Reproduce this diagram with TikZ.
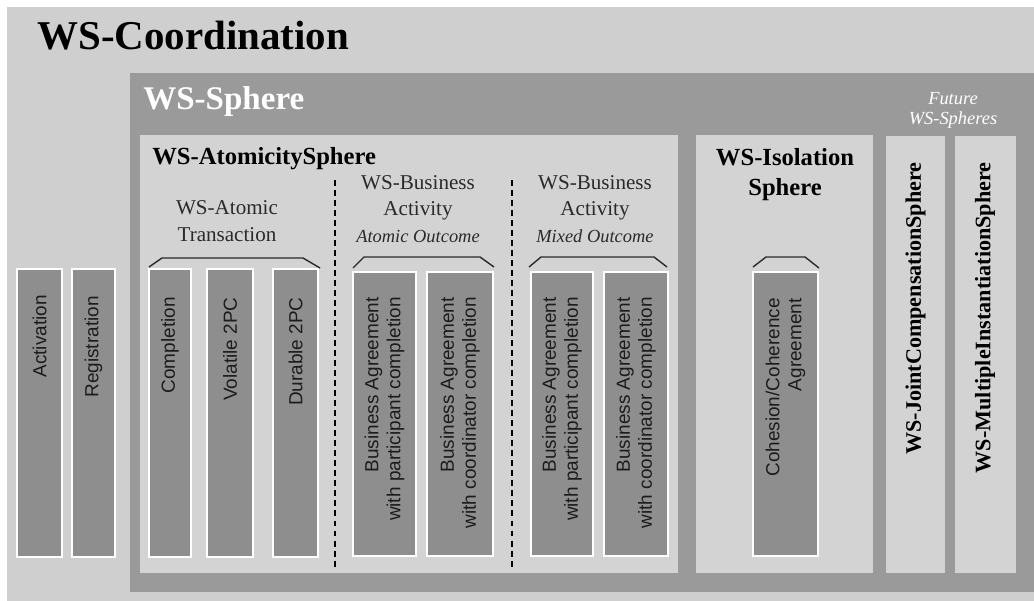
\documentclass[tikz,border=0pt]{standalone}
\usepackage{fontspec}
\setmainfont{Liberation Serif}
\newfontfamily\arialfont{Liberation Sans}
\usepackage{tikz}
\usetikzlibrary{arrows.meta,positioning}
\definecolor{coordgray}{HTML}{CFCFCF}
\definecolor{spheregray}{HTML}{9A9A9A}
\definecolor{innergray}{HTML}{D3D3D3}
\definecolor{protogray}{HTML}{8E8E8E}
\definecolor{linedark}{HTML}{2A2A2A}
\definecolor{labeltext}{HTML}{1C1C1C}
\tikzset{
    protobox/.style={fill=protogray, draw=white, line width=0.7pt},
    protolabel/.style={font=\arialfont\fontsize{10.8}{12.5}\selectfont, color=labeltext, rotate=90, anchor=east, align=right, inner sep=0pt},
    futurelabel/.style={font=\bfseries\fontsize{12.6}{15}\selectfont, color=black, rotate=90, anchor=east, inner sep=0pt},
    groupline/.style={linedark, line width=0.8pt},
    splitline/.style={black, line width=1.1pt, dash pattern=on 3.4pt off 2.3pt},
    headtext/.style={font=\fontsize{12}{14.8}\selectfont, color=linedark, align=center, anchor=base, inner sep=0pt}
}

\begin{document}
\begin{tikzpicture}[x=0.02cm, y=-0.02cm]
    \useasboundingbox (0,0) rectangle (1034,601);
    \fill[white] (0,0) rectangle (1034,601);

    % === WS-Coordination ===
    \fill[coordgray] (7,7) rectangle (1034,601);
    \node[font=\bfseries\fontsize{23.3}{28}\selectfont, anchor=base west, inner sep=0pt] (coordtitle) at (37,50) {WS-Coordination};

    \draw[protobox] (17,269) rectangle (62,557);
    \draw[protobox] (72,269) rectangle (115,557);
    \node[protolabel] (activation) at (39.5,295) {Activation};
    \node[protolabel] (registration) at (93.5,296) {Registration};

    % === WS-Sphere ===
    \fill[spheregray] (130,73) rectangle (1034,592);
    \node[font=\bfseries\fontsize{18.8}{22}\selectfont, color=white, anchor=base west, inner sep=0pt] (spheretitle) at (143,110) {WS-Sphere};

    % === WS-AtomicitySphere ===
    \fill[innergray] (140,135) rectangle (678,573);
    \node[font=\bfseries\fontsize{14}{17}\selectfont, anchor=base west, inner sep=0pt] (atomtitle) at (152,165) {WS-AtomicitySphere};

    % titles: base anchor sits on the last line
    \node[headtext] (attitle) at (227,241) {WS-Atomic\\Transaction};
    \node[headtext] (batitle) at (418,242) {WS-Business\\Activity\\{\itshape\fontsize{10.5}{12}\selectfont Atomic Outcome}};
    \node[headtext] (bmtitle) at (595,242) {WS-Business\\Activity\\{\itshape\fontsize{10.5}{12}\selectfont Mixed Outcome}};

    \draw[splitline] (335,180) -- (335,570);
    \draw[splitline] (512,180) -- (512,570);

    % atomic transaction
    \draw[groupline] (149,267) -- (162,258) -- (303,258) -- (320,268);
    \draw[protobox] (149,269) rectangle (191,557);
    \draw[protobox] (207,269) rectangle (253,557);
    \draw[protobox] (273,269) rectangle (318,557);
    \node[protolabel] (completion) at (170,297) {Completion};
    \node[protolabel] (volatile) at (230,297) {Volatile 2PC};
    \node[protolabel] (durable) at (295.5,297) {Durable 2PC};

    % business activity, atomic outcome
    \draw[groupline] (353,268) -- (364,257) -- (480,257) -- (494,267);
    \draw[protobox] (353,272) rectangle (416,556);
    \draw[protobox] (427,272) rectangle (493,556);
    \node[protolabel] (bapart) at (384.5,297) {Business Agreement\\with participant completion};
    \node[protolabel] (bacoord) at (460,297) {Business Agreement\\with coordinator completion};

    % business activity, mixed outcome
    \draw[groupline] (529,267) -- (541,257) -- (654,257) -- (667,267);
    \draw[protobox] (531,272) rectangle (593,556);
    \draw[protobox] (604,272) rectangle (668,556);
    \node[protolabel] (bmpart) at (562,297) {Business Agreement\\with participant completion};
    \node[protolabel] (bmcoord) at (636,297) {Business Agreement\\with coordinator completion};

    % === WS-Isolation Sphere ===
    \fill[innergray] (696,135) rectangle (873,573);
    \node[font=\bfseries\fontsize{14}{17}\selectfont, align=center, anchor=base, inner sep=0pt] (isotitle) at (785,195) {WS-Isolation\\Sphere};
    \draw[groupline] (753,267) -- (766,257) -- (805,257) -- (819,268);
    \draw[protobox] (753,272) rectangle (818,556);
    \node[protolabel] (cohesion) at (785.5,298) {Cohesion/Coherence\\Agreement};

    % === Future WS-Spheres ===
    \node[font=\itshape\fontsize{10.5}{11.5}\selectfont, color=white, align=center, anchor=base, inner sep=0pt] (futuretitle) at (953,125) {Future\\WS-Spheres};
    \fill[innergray] (886,136) rectangle (945,573);
    \fill[innergray] (955,136) rectangle (1016,573);
    \node[futurelabel] (jointcomp) at (915.5,162) {WS-JointCompensationSphere};
    \node[futurelabel] (multiinst) at (985,162) {WS-MultipleInstantiationSphere};
\end{tikzpicture}
\end{document}
